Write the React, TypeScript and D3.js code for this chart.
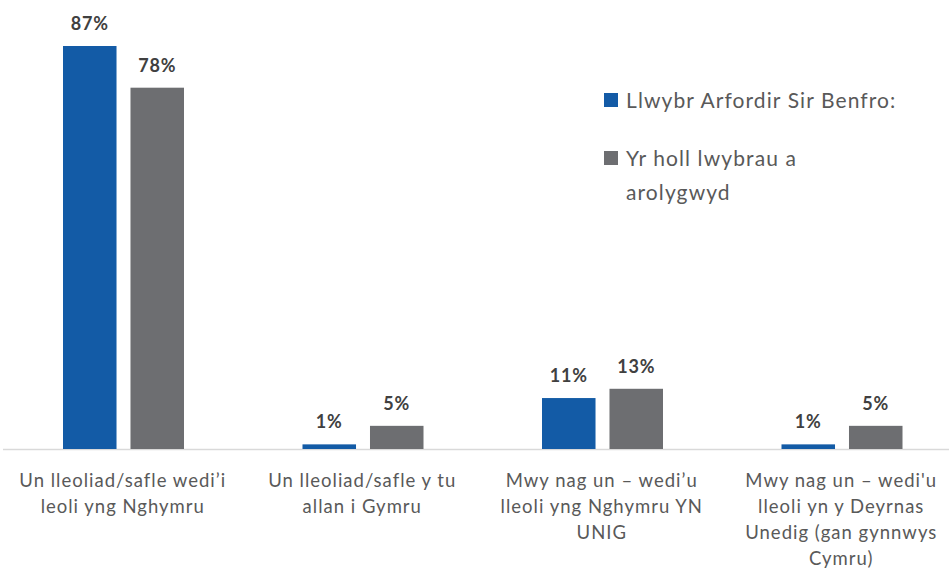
import React from "react";
import * as d3 from "d3";

const categories: string[][] = [
  ["Un lleoliad/safle wedi’i", "leoli yng Nghymru"],
  ["Un lleoliad/safle y tu", "allan i Gymru"],
  ["Mwy nag un – wedi’u", "lleoli yng Nghymru YN", "UNIG"],
  ["Mwy nag un – wedi'u", "lleoli yn y Deyrnas", "Unedig (gan gynnwys", "Cymru)"],
];
const seriesNames = ["Llwybr Arfordir Sir Benfro:", "Yr holl lwybrau a arolygwyd"];
const legendLines = [["Llwybr Arfordir Sir Benfro:"], ["Yr holl lwybrau a", "arolygwyd"]];
const pembrokeshire = [87, 1, 11, 1];
const allPaths = [78, 5, 13, 5];
const colors = ["#135BA6", "#6D6E71"];

const W = 949;
const H = 576;
const baseY = 449;

export default function App() {
  const x0 = d3.scaleBand<number>().domain(d3.range(categories.length)).range([3, 961]).paddingInner(0).paddingOuter(0);
  const x1 = d3.scaleBand<number>().domain([0, 1]).range([63, 184]).paddingInner(0.207);
  const y = d3.scaleLinear().domain([0, 87]).range([baseY, 46]);
  const series = [pembrokeshire, allPaths];
  const font = "Lato, 'Open Sans', sans-serif";
  return (
    <svg width={W} height={H} style={{ position: "absolute", left: 0, top: 0, background: "#fff" }}>
      <line x1={3} x2={W} y1={baseY + 0.5} y2={baseY + 0.5} stroke="#D9D9D9" strokeWidth={1.5} />
      {categories.map((_, ci) => (
        <g key={ci} transform={`translate(${x0(ci)! - 3},0)`}>
          {series.map((s, si) => {
            const bx = x1(si)!;
            const bw = x1.bandwidth();
            return (
              <g key={si}>
                <rect x={bx} y={y(s[ci])} width={bw} height={baseY - y(s[ci])} fill={colors[si]} />
                <text x={bx + bw / 2} y={y(s[ci]) - 16} textAnchor="middle" fontFamily={font} fontWeight={700} fontSize={18} letterSpacing={0.8} fill="#404040">
                  {s[ci]}%
                </text>
              </g>
            );
          })}
        </g>
      ))}
      {categories.map((lines, ci) => (
        <text key={ci} x={x0(ci)! + x0.bandwidth() / 2} textAnchor="middle" fontFamily={font} fontSize={18.5} letterSpacing={1} fill="#595959">
          {lines.map((l, li) => (
            <tspan key={li} x={x0(ci)! + x0.bandwidth() / 2} y={487 + li * 26}>{l}</tspan>
          ))}
        </text>
      ))}
      <g fontFamily={font} fontSize={21} letterSpacing={1.1} fill="#595959">
        {legendLines.map((lines, i) => (
          <g key={i} aria-label={seriesNames[i]}>
            <rect x={604} y={93 + i * 58} width={14} height={14} fill={colors[i]} />
            <text x={626} y={108 + i * 58}>
              {lines.map((l, li) => (
                <tspan key={li} x={626} y={108 + i * 58 + li * 34}>{l}</tspan>
              ))}
            </text>
          </g>
        ))}
      </g>
    </svg>
  );
}
